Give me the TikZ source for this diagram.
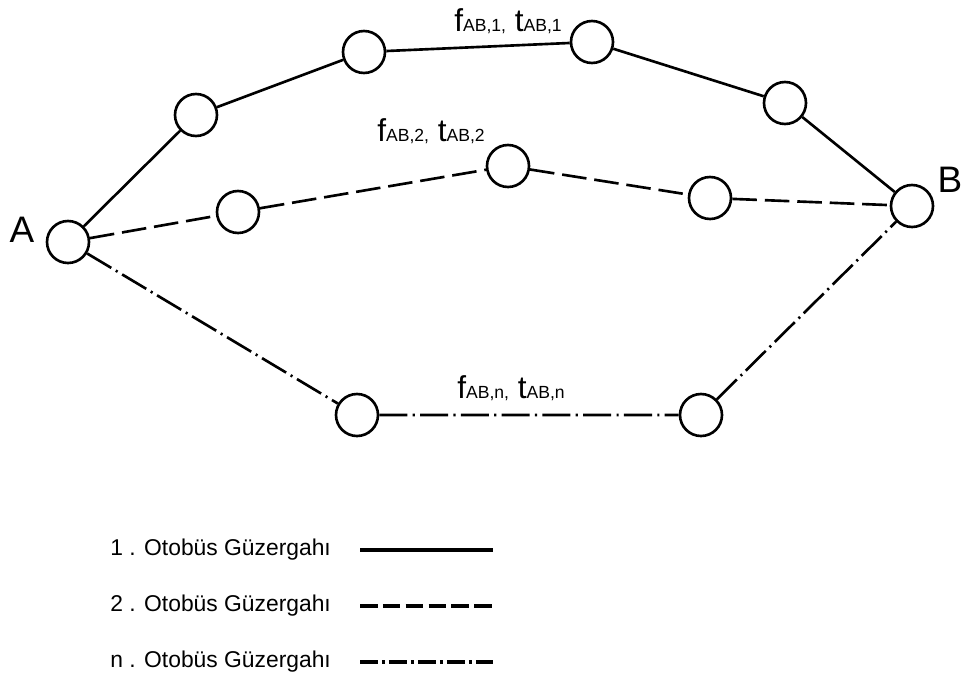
\documentclass[tikz,border=0pt]{standalone}
\usepackage{fontspec}
\setmainfont{Liberation Sans}

% f_{AB,k}, t_{AB,k}
\newcommand{\flow}[1]{f{\fontsize{10}{10}\selectfont AB,#1,} t{\fontsize{10}{10}\selectfont AB,#1}}

\begin{document}
\begin{tikzpicture}[
  x=0.02cm,
  y=-0.02cm,
  every node/.style={font=\fontsize{13}{15}\selectfont},
  stop node/.style={circle,draw,line width=1.5pt,minimum size=0.84cm,inner sep=0pt,fill=white},
  end label/.style={font=\fontsize{21}{24}\selectfont},
  flow label/.style={anchor=base,inner sep=0pt,font=\fontsize{18}{20}\selectfont},
  route1/.style={line width=1.5pt},
  route2/.style={line width=1.5pt,dash pattern=on 14pt off 4.5pt},
  routen/.style={line width=1.5pt,dash pattern=on 16pt off 3pt on 1.2pt off 3pt},
  legend line/.style={line width=2.4pt},
]
\useasboundingbox (0,0) rectangle (973,690);

% end points
\node[stop node] (A) at (68,242) {};
\node[stop node] (B) at (912,206) {};
\node[end label] (lA) at (22,230) {A};
\node[end label] (lB) at (950,180) {B};

% stops of route 1
\node[stop node] (p1) at (196,115) {};
\node[stop node] (p2) at (364,52) {};
\node[stop node] (p3) at (592,42) {};
\node[stop node] (p4) at (785,103) {};
% stops of route 2
\node[stop node] (q1) at (238,212) {};
\node[stop node] (q2) at (508,166) {};
\node[stop node] (q3) at (710,198) {};
% stops of route n
\node[stop node] (r1) at (357,415) {};
\node[stop node] (r2) at (701,415) {};

\draw[route1] (A) -- (p1) -- (p2) -- (p3) -- (p4) -- (B);
\draw[route2] (A) -- (q1) -- (q2) -- (q3) -- (B);
\draw[routen] (A) -- (r1) -- (r2) -- (B);

\node[flow label] (f1) at (508,31) {\flow{1}};
\node[flow label] (f2) at (431,141) {\flow{2}};
\node[flow label] (fn) at (511,398) {\flow{n}};

% legend
\node[anchor=west,inner sep=0pt] (leg1) at (110,550) {1 . Otobüs Güzergahı};
\node[anchor=west,inner sep=0pt] (leg2) at (110,606) {2 . Otobüs Güzergahı};
\node[anchor=west,inner sep=0pt] (legn) at (110,662) {n . Otobüs Güzergahı};
\coordinate (s1) at (360,550); \coordinate (e1) at (493,550);
\coordinate (s2) at (360,606); \coordinate (e2) at (493,606);
\coordinate (sn) at (360,662); \coordinate (en) at (493,662);
\draw[legend line] (s1) -- (e1);
\draw[legend line,dash pattern=on 10pt off 3pt] (s2) -- (e2);
\draw[legend line,dash pattern=on 10pt off 2.5pt on 1.5pt off 2.5pt] (sn) -- (en);
\end{tikzpicture}
\end{document}
